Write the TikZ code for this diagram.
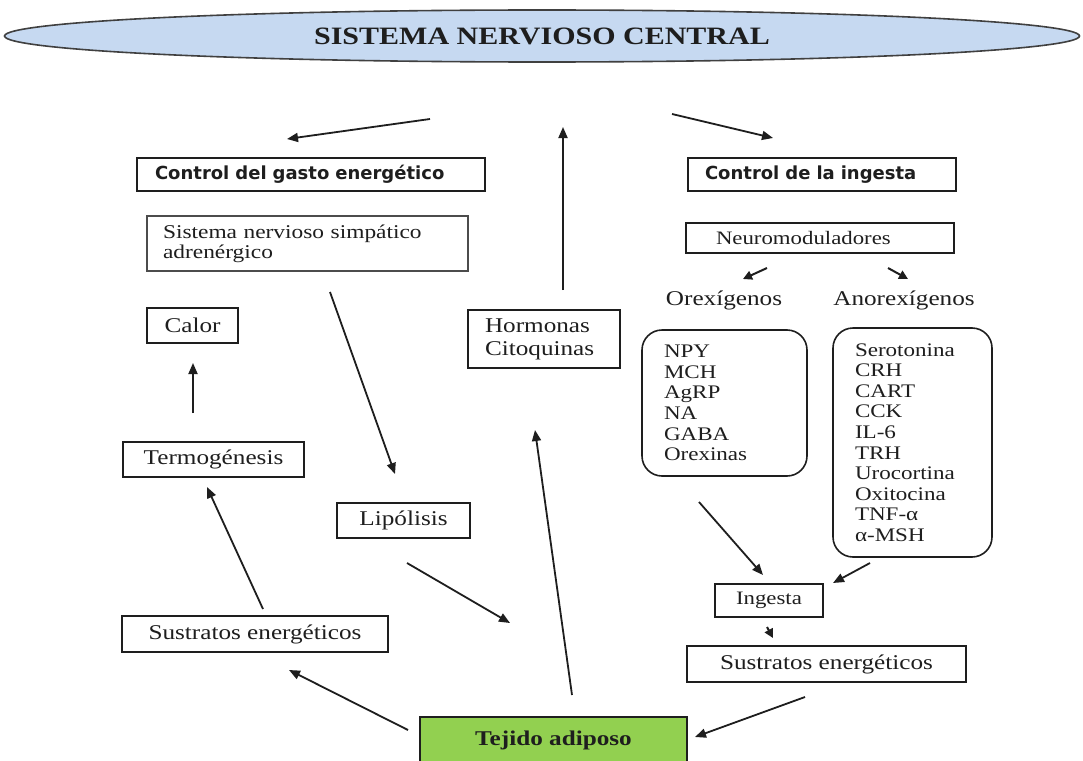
\documentclass[tikz,border=0pt]{standalone}
\usepackage{fontspec}
\setmainfont{Liberation Serif}[FakeStretch=1.2]
\newfontfamily\hdsans{DejaVu Sans}
\usetikzlibrary{shapes.geometric,arrows.meta}
\definecolor{sncfill}{HTML}{C6D9F1}
\definecolor{tejfill}{HTML}{92D050}
\definecolor{ink}{HTML}{1E1E1E}
\tikzset{
  box/.style={draw=ink, line width=1.6pt, inner ysep=0pt, inner xsep=0pt, text=ink},
  hdbox/.style={box, line width=2pt, font=\hdsans\bfseries\fontsize{18}{20}\selectfont, align=left},
  sbox/.style={box, font=\fontsize{21}{23}\selectfont},
  lbl/.style={inner sep=0pt, text=ink, font=\fontsize{21}{23}\selectfont},
  listbox/.style={box, rounded corners=20pt, font=\fontsize{19.2}{20.6}\selectfont, align=left},
  arr/.style={draw=ink, line width=1.8pt, -{Triangle[length=11pt,width=9pt]}},
  sarr/.style={draw=ink, line width=2pt, -{Triangle[length=9pt,width=9pt]}}
}
\begin{document}
\begin{tikzpicture}[x=1pt,y=-1pt]
\useasboundingbox (0,0) rectangle (1083,760);
\fill[white] (0,0) rectangle (1083,760);

% title
\node[ellipse, draw=black!75, line width=1.6pt, fill=sncfill, minimum width=1075pt, minimum height=52pt, inner sep=0pt,
  font=\bfseries\fontsize{25}{27}\selectfont, text=ink] (snc) at (542,36) {SISTEMA NERVIOSO CENTRAL};

% left column
\node[hdbox, text width=312pt, inner xsep=18pt, minimum height=33pt] (ctrlG) at (311,174.5) {Control del gasto energético};
\node[box, line width=1.3pt, draw=black!70, text width=289pt, inner xsep=16pt, minimum height=55pt, align=left,
  font=\fontsize{19.5}{20}\selectfont] (sns) at (307.5,243.5) {Sistema nervioso simpático\\adrenérgico};
\node[sbox, minimum width=91pt, minimum height=35pt] (calor) at (192.5,325.5) {Calor};
\node[sbox, minimum width=181pt, minimum height=35pt] (termo) at (213.5,459.5) {Termogénesis};
\node[sbox, minimum width=133pt, minimum height=35pt] (lipo) at (403.5,520.5) {Lipólisis};
\node[sbox, minimum width=266pt, minimum height=36pt] (sustL) at (255,634) {Sustratos energéticos};
\node[sbox, text width=118pt, inner xsep=17pt, minimum height=58pt, align=left] (horm) at (544,339) {Hormonas\\Citoquinas};

% bottom
\node[box, fill=tejfill, minimum width=267pt, minimum height=46pt, font=\bfseries\fontsize{21}{23}\selectfont] (tej) at (553.5,740) {Tejido adiposo};

% right column
\node[hdbox, text width=234pt, inner xsep=17pt, minimum height=33pt] (ctrlI) at (822,174.5) {Control de la ingesta};
\node[box, text width=208pt, inner xsep=30pt, minimum height=30pt, align=left, font=\fontsize{19}{21}\selectfont] (neuro) at (820,238) {Neuromoduladores};
\node[lbl] (orex) at (724,300) {Orexígenos};
\node[lbl] (anorex) at (904,300) {Anorexígenos};
\node[listbox, text width=121pt, inner xsep=22pt, minimum height=146pt] (listL) at (724.5,403)
  {NPY\\MCH\\AgRP\\NA\\GABA\\Orexinas};
\node[listbox, text width=115pt, inner xsep=22pt, minimum height=229pt] (listR) at (912.5,442.5)
  {Serotonina\\CRH\\CART\\CCK\\IL-6\\TRH\\Urocortina\\Oxitocina\\TNF-α\\α-MSH};
\node[box, minimum width=108pt, minimum height=33pt, font=\fontsize{19}{21}\selectfont] (ing) at (769,600.5) {Ingesta};
\node[sbox, minimum width=279pt, minimum height=36pt] (sustR) at (826.5,664) {Sustratos energéticos};

% connector end points
\coordinate (a1s) at (430,119);  \coordinate (a1e) at (287,139);
\coordinate (a2s) at (563,290);  \coordinate (a2e) at (563,127);
\coordinate (a3s) at (672,114);  \coordinate (a3e) at (773,138);
\coordinate (a4s) at (767,268);  \coordinate (a4e) at (743,279);
\coordinate (a5s) at (888,268);  \coordinate (a5e) at (908,279);
\coordinate (a6s) at (330,292);  \coordinate (a6e) at (395,474);
\coordinate (a7s) at (193,413);  \coordinate (a7e) at (193,363);
\coordinate (a8s) at (263,609);  \coordinate (a8e) at (207,487);
\coordinate (a9s) at (572,695);  \coordinate (a9e) at (535,430);
\coordinate (a10s) at (407,563); \coordinate (a10e) at (510,623);
\coordinate (a11s) at (408,730); \coordinate (a11e) at (289,670);
\coordinate (a12s) at (699,502); \coordinate (a12e) at (763,575);
\coordinate (a13s) at (870,563); \coordinate (a13e) at (833,583);
\coordinate (a14s) at (767,627); \coordinate (a14e) at (773,638);
\coordinate (a15s) at (805,697); \coordinate (a15e) at (695,737);

\draw[arr] (a1s) -- (a1e);
\draw[arr] (a2s) -- (a2e);
\draw[arr] (a3s) -- (a3e);
\draw[sarr] (a4s) -- (a4e);
\draw[sarr] (a5s) -- (a5e);
\draw[arr] (a6s) -- (a6e);
\draw[arr] (a7s) -- (a7e);
\draw[arr] (a8s) -- (a8e);
\draw[arr] (a9s) -- (a9e);
\draw[arr] (a10s) -- (a10e);
\draw[arr] (a11s) -- (a11e);
\draw[arr] (a12s) -- (a12e);
\draw[arr] (a13s) -- (a13e);
\draw[sarr] (a14s) -- (a14e);
\draw[arr] (a15s) -- (a15e);
\end{tikzpicture}
\end{document}
